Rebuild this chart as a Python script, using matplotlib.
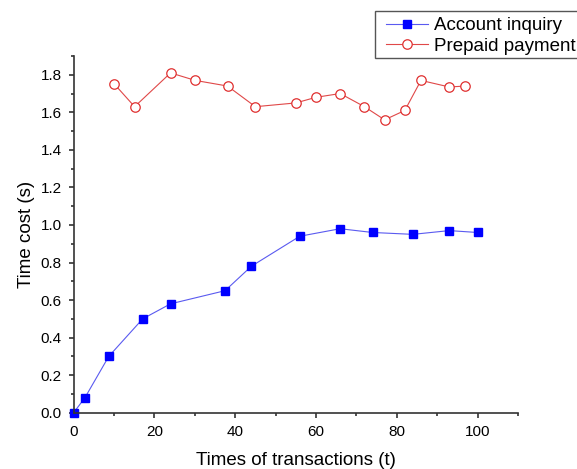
import matplotlib
matplotlib.use("Agg")
import matplotlib.pyplot as plt
from matplotlib.patches import Rectangle
from matplotlib.ticker import MultipleLocator

plt.rcParams["font.family"] = ["Liberation Sans", "DejaVu Sans"]

# Account inquiry
inquiry_x = [0, 2.8, 8.7, 17.1, 24, 37.5, 44, 56, 66, 74, 84, 93, 100]
inquiry_y = [0.0, 0.08, 0.30, 0.50, 0.58, 0.65, 0.78, 0.94, 0.98, 0.96, 0.95, 0.97, 0.96]

# Prepaid payment
prepaid_x = [10.1, 15.1, 24, 30.1, 38.1, 45, 55, 60, 66, 72, 77, 82, 86, 93, 97]
prepaid_y = [1.75, 1.63, 1.81, 1.77, 1.74, 1.63, 1.65, 1.68, 1.70, 1.63, 1.56, 1.61, 1.77, 1.735, 1.74]

fig = plt.figure(figsize=(5.77, 4.69), dpi=100)
ax = fig.add_axes([0.1276, 0.120, 0.770, 0.7606])

ax.plot(inquiry_x, inquiry_y, color="#5a5af0", linewidth=0.8, marker="s", markersize=5.8,
        markerfacecolor="#0000ff", markeredgecolor="#0000ff", label="Account inquiry", clip_on=False)
ax.plot(prepaid_x, prepaid_y, color="#e04848", linewidth=0.8, marker="o", markersize=6.8,
        markerfacecolor="white", markeredgecolor="#e03030", markeredgewidth=0.9,
        label="Prepaid payment", clip_on=False)

ax.set_xlim(0, 110)
ax.set_ylim(0, 1.9)
ax.xaxis.set_minor_locator(MultipleLocator(10))
ax.yaxis.set_minor_locator(MultipleLocator(0.1))
ax.set_xticks([0, 20, 40, 60, 80, 100])
ax.set_yticks([0.0, 0.2, 0.4, 0.6, 0.8, 1.0, 1.2, 1.4, 1.6, 1.8])
ax.set_yticklabels([f"{v:.1f}" for v in ax.get_yticks()])

for s in ["top", "right"]:
    ax.spines[s].set_visible(False)
for s in ["left", "bottom"]:
    ax.spines[s].set_color("#333333")
    ax.spines[s].set_linewidth(1.2)

ax.tick_params(which="major", direction="out", length=3.5, width=1.2, color="#333333", labelsize=11)
ax.tick_params(which="minor", direction="out", length=2.2, width=1.2, color="#333333")
ax.tick_params(axis="x", which="major", pad=5.5)
ax.tick_params(axis="y", which="major", pad=5)

ax.set_xlabel("Times of transactions (t)", fontsize=13.5, labelpad=9)
ax.set_ylabel("Time cost (s)", fontsize=13.5, labelpad=4)

# legend frame drawn by hand, it runs past the right edge of the figure
fig.patches.append(Rectangle((375.5 / 577, 1 - 58 / 469), 0.5, 47 / 469, transform=fig.transFigure,
                             facecolor="white", edgecolor="#555555", linewidth=1))
fig.legend(loc="upper left", bbox_to_anchor=(386 / 577, 1 - 17 / 469), fontsize=13.5,
           frameon=False, borderaxespad=0, borderpad=0, handlelength=2.24,
           handletextpad=0.32, labelspacing=0.2)

fig.savefig("out.png", dpi=100)
